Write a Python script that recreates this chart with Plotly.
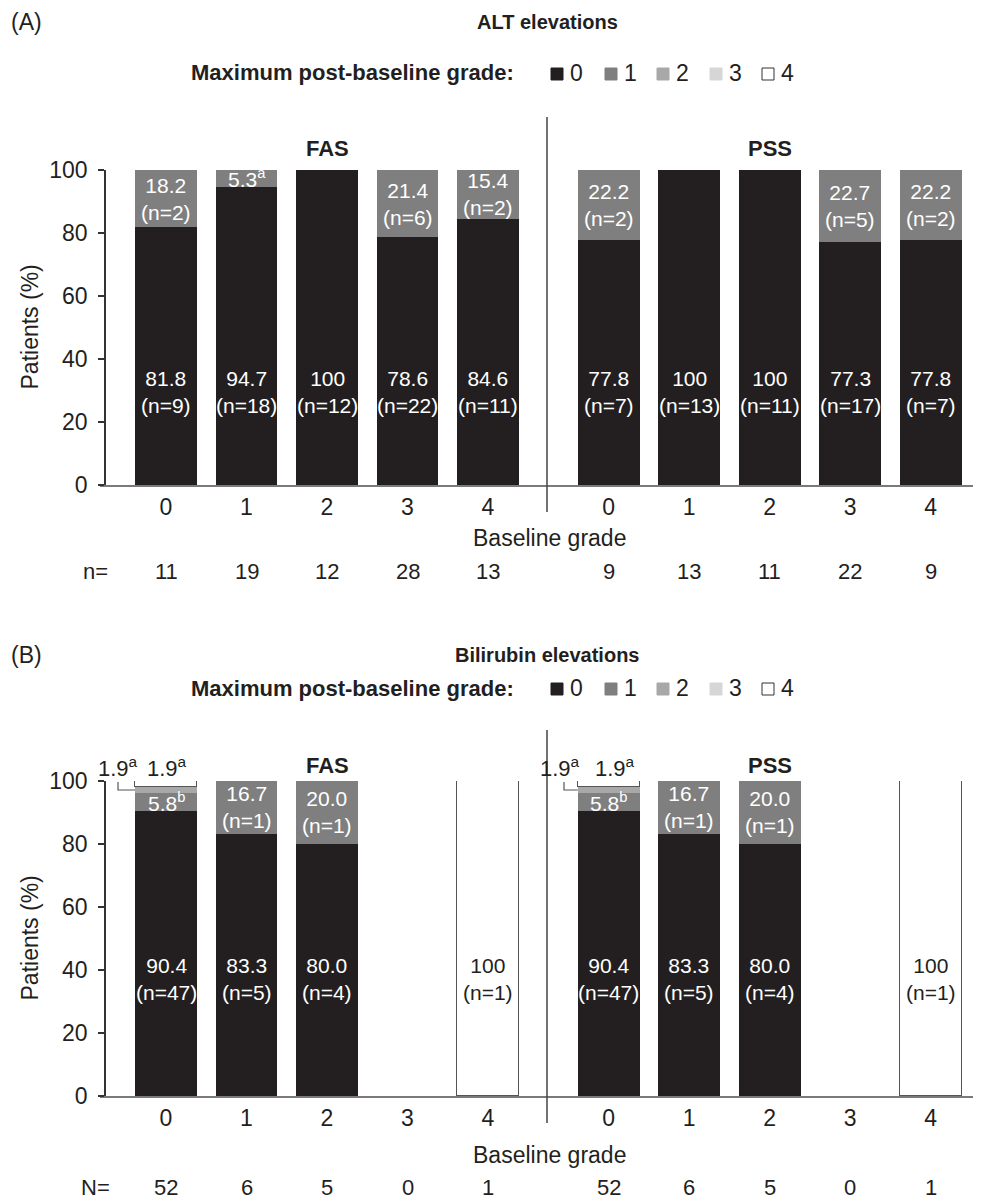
import plotly.graph_objects as go

W, H = 981, 1203
OFF = 8                      # page body margin of the written html
FW, FH = W - OFF, H - OFF     # figure size so the page fills the window

# ---------------- data ----------------
categories = ["0", "1", "2", "3", "4"]
groups = ["FAS", "PSS"]
grade_names = ["0", "1", "2", "3", "4"]
grade_colors = ["#231f20", "#7f7f7f", "#a8a8a8", "#d6d6d6", "#ffffff"]

# Panel A: ALT elevations (FAS grades 0-4, then PSS grades 0-4)
alt_n = [11, 19, 12, 28, 13, 9, 13, 11, 22, 9]
alt_g0 = [81.8, 94.7, 100, 78.6, 84.6, 77.8, 100, 100, 77.3, 77.8]
alt_g1 = [18.2, 5.3, None, 21.4, 15.4, 22.2, None, None, 22.7, 22.2]
alt_g0_n = [9, 18, 12, 22, 11, 7, 13, 11, 17, 7]
alt_g1_n = [2, None, None, 6, 2, 2, None, None, 5, 2]
alt_g1_note = ["", "a", "", "", "", "", "", "", "", ""]

# Panel B: Bilirubin elevations
bil_N = [52, 6, 5, 0, 1, 52, 6, 5, 0, 1]
bil_g0 = [90.4, 83.3, 80.0, None, None, 90.4, 83.3, 80.0, None, None]
bil_g1 = [5.8, 16.7, 20.0, None, None, 5.8, 16.7, 20.0, None, None]
bil_g2 = [1.9, None, None, None, None, 1.9, None, None, None, None]
bil_g4 = [1.9, None, None, None, 100, 1.9, None, None, None, 100]
bil_g0_n = [47, 5, 4, None, None, 47, 5, 4, None, None]
bil_g1_n = [None, 1, 1, None, None, None, 1, 1, None, None]
bil_g4_n = [None, None, None, None, 1, None, None, None, None, 1]
bil_g1_note = ["b", "", "", "", "", "b", "", "", "", ""]

# ---------------- geometry helpers ----------------
pos = [i + g * 5.5 for g in range(2) for i in range(5)]
ticktext = categories * 2

X0, UNIT = 166.0, 80.5        # page pixel of category 0 and pixels per unit
PX_L, PX_R = 100.0, 981.0
xrange_ = [(PX_L - X0) / UNIT, (PX_R - X0) / UNIT]


def px2x(px):
    return (px - X0) / UNIT


def px_paper_x(px):
    return (px - OFF) / FW


def px_paper_y(py):
    return 1 - (py - OFF) / FH


A_TOP, A_BOT = 170, 485
B_TOP, B_BOT = 781, 1096

FONT = "Liberation Sans, Arial, Helvetica, sans-serif"
TXT = "#231f20"
BW = 0.77


def fmt(v):
    return "100" if v == 100 else f"{v:.1f}"


def A(**kw):
    d = dict(showarrow=False, xanchor="center", yanchor="middle")
    d.update(kw)
    return d


fig = go.Figure()

# Panel A bars
for vals, gi in [(alt_g0, 0), (alt_g1, 1)]:
    fig.add_trace(go.Bar(x=pos, y=vals, width=BW, marker=dict(color=grade_colors[gi], line=dict(width=0)),
                         xaxis="x", yaxis="y", showlegend=False, hoverinfo="skip"))
# Panel B bars
for vals, gi in [(bil_g0, 0), (bil_g1, 1), (bil_g2, 2), (bil_g4, 4)]:
    line = dict(width=1.5, color="#555555") if gi == 4 else dict(width=0)
    fig.add_trace(go.Bar(x=pos, y=vals, width=BW, marker=dict(color=grade_colors[gi], line=line),
                         xaxis="x2", yaxis="y2", showlegend=False, hoverinfo="skip"))

ann = []
shapes = []
LBL = dict(size=21, color="white", family=FONT)

# ---- bar labels, panel A
for i, p in enumerate(pos):
    ann.append(A(x=p, y=29.5, xref="x", yref="y",
                 text=f"{fmt(alt_g0[i])}<br>(n={alt_g0_n[i]})", font=LBL))
    if alt_g1[i]:
        yc = alt_g0[i] + alt_g1[i] / 2
        if alt_g1_n[i]:
            t = f"{fmt(alt_g1[i])}<br>(n={alt_g1_n[i]})"
        else:
            t = f"{fmt(alt_g1[i])}<sup>{alt_g1_note[i]}</sup>"
            yc = 97.6
        ann.append(A(x=p, y=yc, xref="x", yref="y", text=t, font=LBL))

# ---- bar labels, panel B
for i, p in enumerate(pos):
    if bil_g0[i]:
        ann.append(A(x=p, y=37, xref="x2", yref="y2",
                     text=f"{fmt(bil_g0[i])}<br>(n={bil_g0_n[i]})", font=LBL))
    if bil_g1[i]:
        yc = bil_g0[i] + bil_g1[i] / 2
        if bil_g1_n[i]:
            t = f"{fmt(bil_g1[i])}<br>(n={bil_g1_n[i]})"
        else:
            t = f"{fmt(bil_g1[i])}<sup>{bil_g1_note[i]}</sup>"
        ann.append(A(x=p, y=yc, xref="x2", yref="y2", text=t, font=LBL))
    if bil_g4[i] == 100:
        ann.append(A(x=p, y=37, xref="x2", yref="y2",
                     text=f"{fmt(bil_g4[i])}<br>(n={bil_g4_n[i]})",
                     font=dict(size=21, color=TXT, family=FONT)))

# small 1.9 labels with bracket (grade 2 and grade 4 slivers)
for lx1, lx2, bx, k in [(118, 167, 118, 0), (560, 615, 564, 5)]:
    p = pos[k]
    ann.append(A(x=px2x(lx1), y=px_paper_y(767), xref="x2", yref="paper",
                 text=f"{fmt(bil_g2[k])}<sup>a</sup>", font=dict(size=22, color=TXT, family=FONT)))
    ann.append(A(x=px2x(lx2), y=px_paper_y(767), xref="x2", yref="paper",
                 text=f"{fmt(bil_g4[k])}<sup>a</sup>", font=dict(size=22, color=TXT, family=FONT)))
    yb = bil_g0[k] + bil_g1[k] + bil_g2[k] / 2
    shapes.append(dict(type="path", xref="x2", yref="y2",
                       path=f"M {px2x(bx)} 99.7 L {px2x(bx)} {yb} L {p - BW / 2} {yb}",
                       line=dict(color="#555555", width=1.2)))


# ---- panel texts
def panel_texts(letter, title, y_title, y_leg, y_grp, y_base, y_n, nlabel, nvals, yref, ymid):
    xref = yref.replace("y", "x")
    ann.append(A(x=px_paper_x(9), y=px_paper_y(y_title), xref="paper", yref="paper", xanchor="left",
                 text=letter, font=dict(size=23, color=TXT, family=FONT)))
    ann.append(A(x=px_paper_x(547), y=px_paper_y(y_title), xref="paper", yref="paper",
                 text=f"<b>{title}</b>", font=dict(size=20, color=TXT, family=FONT)))
    ann.append(A(x=px_paper_x(516), y=px_paper_y(y_leg), xref="paper", yref="paper", xanchor="right",
                 text="<b>Maximum post-baseline grade:</b>", font=dict(size=22, color=TXT, family=FONT)))
    sq_x = [551, 605, 657, 710, 762]
    for k, g in enumerate(grade_names):
        shapes.append(dict(type="rect", xref="paper", yref="paper",
                           x0=px_paper_x(sq_x[k]), x1=px_paper_x(sq_x[k] + 12),
                           y0=px_paper_y(y_leg + 7), y1=px_paper_y(y_leg - 5),
                           fillcolor=grade_colors[k],
                           line=dict(color="#333333" if k == 4 else grade_colors[k], width=1)))
        ann.append(A(x=px_paper_x(sq_x[k] + 17), y=px_paper_y(y_leg), xref="paper", yref="paper",
                     xanchor="left", text=g, font=dict(size=23, color=TXT, family=FONT)))
    for gname, gx in zip(groups, [2, 7.5]):
        ann.append(A(x=gx, y=px_paper_y(y_grp), xref=xref, yref="paper",
                     text=f"<b>{gname}</b>", font=dict(size=22, color=TXT, family=FONT)))
    ann.append(A(x=px_paper_x(549), y=px_paper_y(y_base), xref="paper", yref="paper",
                 text="Baseline grade", font=dict(size=23, color=TXT, family=FONT)))
    ann.append(A(x=px_paper_x(95), y=px_paper_y(y_n), xref="paper", yref="paper",
                 text=nlabel, font=dict(size=22, color=TXT, family=FONT)))
    for p, v in zip(pos, nvals):
        ann.append(A(x=p, y=px_paper_y(y_n), xref=xref, yref="paper",
                     text=str(v), font=dict(size=22, color=TXT, family=FONT)))
    ann.append(A(x=px_paper_x(30), y=ymid, xref="paper", yref=yref, textangle=-90,
                 text="Patients (%)", font=dict(size=23, color=TXT, family=FONT)))


panel_texts("(A)", "ALT elevations", 22, 73, 149, 538, 572, "n=", alt_n, "y", 50)
panel_texts("(B)", "Bilirubin elevations", 655, 688, 765, 1155, 1187, "N=", bil_N, "y2", 50)

# dividers between FAS and PSS
for y0, y1 in [(117, 512), (730, 1123)]:
    shapes.append(dict(type="line", xref="paper", yref="paper",
                       x0=px_paper_x(547), x1=px_paper_x(547), y0=px_paper_y(y0), y1=px_paper_y(y1),
                       line=dict(color="#444444", width=1.5)))

xaxis_common = dict(range=xrange_, domain=[px_paper_x(PX_L), 1], tickvals=pos, ticktext=ticktext,
                    showgrid=False, zeroline=False, showline=True, linecolor="#7a7a7a", linewidth=2,
                    ticks="", automargin=False,
                    tickfont=dict(size=23, color=TXT, family=FONT), fixedrange=True)
yaxis_common = dict(range=[0, 100], tickvals=[0, 20, 40, 60, 80, 100], showgrid=False, zeroline=False,
                    showline=True, linecolor="#333333", linewidth=1.5, ticks="outside", ticklen=6,
                    tickcolor="#333333", tickwidth=1.5, ticklabelstandoff=6, automargin=False,
                    tickfont=dict(size=23, color=TXT, family=FONT), anchor="free",
                    position=px_paper_x(105))

fig.update_layout(
    width=FW, height=FH, margin=dict(l=0, r=0, t=0, b=0, autoexpand=False),
    paper_bgcolor="white", plot_bgcolor="white",
    barmode="stack", bargap=0,
    xaxis=dict(**xaxis_common, anchor="y"),
    xaxis2=dict(**xaxis_common, anchor="y2"),
    yaxis=dict(**yaxis_common, domain=[px_paper_y(A_BOT), px_paper_y(A_TOP)]),
    yaxis2=dict(**yaxis_common, domain=[px_paper_y(B_BOT), px_paper_y(B_TOP)]),
    annotations=ann, shapes=shapes, font=dict(family=FONT, color=TXT),
)

fig.write_html("out.html")
